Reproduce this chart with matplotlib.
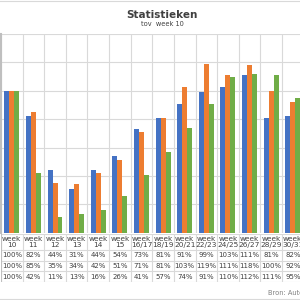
import numpy as np
import matplotlib.pyplot as plt

# Data
weeks = ["week\n10", "week\n11", "week\n12", "week\n13", "week\n14", "week\n15",
         "week\n16/17", "week\n18/19", "week\n20/21", "week\n22/23", "week\n24/25",
         "week\n26/27", "week\n28/29", "week\n30/31"]
blue_vals = [100, 82, 44, 31, 44, 54, 73, 81, 91, 99, 103, 111, 81, 82]
orange_vals = [100, 85, 35, 34, 42, 51, 71, 81, 103, 119, 111, 118, 100, 92]
green_vals = [100, 42, 11, 13, 16, 26, 41, 57, 74, 91, 110, 112, 111, 95]

colors = ["#4472C4", "#ED7D31", "#70AD47"]
grid_c = "#D9D9D9"
text_c = "#404040"

fig = plt.figure(figsize=(3, 3), dpi=100)
W = H = 300.0

def px_rect(x0, y0, x1, y1):
    # pixel box (top-left origin) -> figure fraction rect
    return [x0 / W, 1 - y1 / H, (x1 - x0) / W, (y1 - y0) / H]

n = len(weeks)
x = np.arange(n)
bw = 0.23

# main bar chart
ax = fig.add_axes(px_rect(1, 34, 303.6, 232.7))
for i, vals in enumerate([blue_vals, orange_vals, green_vals]):
    ax.bar(x + (i - 1) * bw, vals, width=bw, color=colors[i], zorder=3)
ax.set_xlim(-0.5, n - 0.5)
ax.set_ylim(0, 140)
ax.set_yticks(np.arange(0, 141, 20))
ax.set_xticks(np.arange(-0.5, n, 1))
ax.grid(True, color=grid_c, linewidth=0.8, zorder=0)
ax.tick_params(left=False, bottom=False, labelleft=False, labelbottom=False)
for s in ["top", "right", "bottom"]:
    ax.spines[s].set_visible(False)
ax.spines["left"].set_color("#BFBFBF")
ax.spines["left"].set_linewidth(1.5)

# data table under the chart
tab = fig.add_axes(px_rect(1, 233.7, 303.6, 282))
tab.set_xlim(-0.5, n - 0.5)
tab.set_ylim(0, 1)
tab.axis("off")
row_edges = [1.0, 1 - 16.3 / 48.3, 1 - 27.0 / 48.3, 1 - 37.6 / 48.3, 0.0]
for y in row_edges:
    tab.axhline(y, color=grid_c, linewidth=0.8)
for b in np.arange(-0.5, n + 0.5, 1):
    tab.axvline(b, color=grid_c, linewidth=0.8)
tab.axvline(-0.5, color="#BFBFBF", linewidth=1.5)
for i in range(n):
    tab.text(i, (row_edges[0] + row_edges[1]) / 2, weeks[i], ha="center", va="center",
             fontsize=5.3, color=text_c, linespacing=1.0)
    for r, vals in enumerate([blue_vals, orange_vals, green_vals]):
        yc = (row_edges[r + 1] + row_edges[r + 2]) / 2
        tab.text(i, yc, f"{vals[i]}%", ha="center", va="center", fontsize=5.0, color=text_c)

# titles and source
fig.text(162 / W, 1 - 15.5 / H, "Statistieken", ha="center", va="center",
         fontsize=7.5, fontweight="bold", color=text_c)
fig.text(162 / W, 1 - 24.5 / H, "tov  week 10", ha="center", va="center",
         fontsize=4.8, color=text_c)
fig.text(268 / W, 1 - 293 / H, "Bron: Autoriteit", ha="left", va="center",
         fontsize=4.8, color="#808080")

# chart frame edges
fig.add_artist(plt.Line2D([0, 1], [1 - 1 / H, 1 - 1 / H], color=grid_c, linewidth=0.8))
fig.add_artist(plt.Line2D([0, 1], [1 - 299 / H, 1 - 299 / H], color=grid_c, linewidth=0.8))

fig.savefig("out.png", dpi=100)
